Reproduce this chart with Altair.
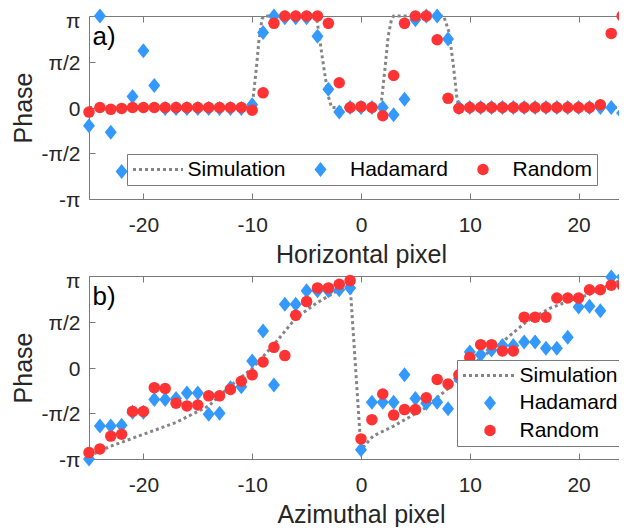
import altair as alt
import pandas as pd

# ---------------- data (phase values in units of pi) ----------------
PIXELS = list(range(-25, 25))
SERIES = ["Simulation", "Hadamard", "Random"]
X_TICKS = [-20, -10, 0, 10, 20]
Y_TICKS = [-1, -0.5, 0, 0.5, 1]
Y_LABELS = ["-π", "-π/2", "0", "π/2", "π"]
X_DOMAIN = [-25, 25]
Y_DOMAIN = [-1, 1]

TOP_HADAMARD = [-0.20, 1.00, -0.27, -0.70, 0.12, 0.62, 0.24,
                -0.01, -0.01, -0.01, -0.01, -0.01, -0.01, -0.01, -0.01,
                0.03, 0.82, 1.00, 0.98, 0.98, 0.98, 0.78, 0.20, -0.05, 0.00,
                0.00, 0.00, 0.00, -0.08, 0.09, 0.96, 1.00, 1.00, 0.75, 0.00,
                0.00, 0.00, 0.00, 0.00, 0.00, 0.00, 0.00, 0.00, 0.00, 0.00,
                0.00, 0.00, 0.00, 0.00, -0.06]
TOP_RANDOM = [-0.05, 0.00, -0.02, -0.01, 0.00, 0.00, 0.00,
              0.00, 0.00, 0.00, 0.00, 0.00, 0.00, 0.00, 0.00,
              -0.03, 0.16, 0.92, 1.00, 1.00, 1.00, 1.00, 0.92, 0.27, 0.00,
              0.01, 0.00, -0.09, 0.35, 0.92, 1.00, 1.00, 0.74, 0.10, -0.01,
              0.00, 0.00, 0.00, 0.00, 0.00, 0.00, 0.00, 0.00, 0.00, 0.00,
              0.00, 0.00, 0.03, 0.81, 1.00]
TOP_SIM_X = [-25, -10.0, -9.9, -9.6, -9.4, -9.1, -8.9, -4.1, -3.8, -3.4, -3.0, -2.7,
             1.7, 1.9, 2.2, 2.5, 2.8, 3.0, 7.6, 8.1, 8.5, 8.8, 9.0, 25]
TOP_SIM_Y = [0.0, 0.0, 0.12, 0.45, 0.71, 0.97, 1.0, 1.0, 0.75, 0.42, 0.12, 0.0,
             0.0, 0.09, 0.42, 0.78, 0.96, 1.0, 1.0, 0.82, 0.45, 0.12, 0.0, 0.0]

BOT_HADAMARD = [-1.00, -0.64, -0.64, -0.63, -0.49, -0.49, -0.35, -0.35, -0.34, -0.28,
                -0.28, -0.51, -0.50, -0.22, -0.21, 0.07, 0.40, -0.19, 0.69, 0.69,
                0.84, 0.84, 0.84, 0.85, 0.87, -0.90, -0.38, -0.38, -0.38, -0.08,
                -0.34, -0.39, -0.38, -0.45, -0.12, 0.17, 0.14, 0.19, 0.24, 0.24,
                0.28, 0.28, 0.21, 0.21, 0.33, 0.66, 0.67, 0.62, 0.99, 0.99]
BOT_RANDOM = [-0.93, -0.89, -0.75, -0.73, -0.48, -0.48, -0.22, -0.23, -0.39, -0.42,
              -0.41, -0.31, -0.31, -0.24, -0.15, -0.08, 0.06, 0.22, 0.13, 0.57,
              0.72, 0.87, 0.87, 0.91, 0.95, -0.78, -0.57, -0.29, -0.52, -0.46,
              -0.46, -0.33, -0.13, -0.18, -0.08, 0.11, 0.25, 0.25, 0.18, 0.18,
              0.55, 0.55, 0.55, 0.76, 0.76, 0.76, 0.85, 0.85, 0.90, 0.90]
BOT_SIM_X = [-25, -23, -20, -17, -14, -12, -10, -8, -6, -4, -2, -1, 0,
             1.1, 3, 5.8, 8, 10, 13.4, 15.2, 17.4, 19.2, 21, 23, 24]
BOT_SIM_Y = [-0.97, -0.86, -0.73, -0.60, -0.42, -0.20, -0.01, 0.25, 0.54, 0.71, 0.85, 0.90, -0.90,
             -0.75, -0.64, -0.45, -0.23, 0.01, 0.32, 0.50, 0.65, 0.73, 0.80, 0.91, 0.96]

# ---------------- styles ----------------
FONT = "Liberation Sans"
FRAME = "#7a7a7a"
SIM_GRAY = "#858585"
BLUE = "#3399ff"
RED = "#ff3333"
TXT = "#262626"
DIAMOND = "M0,-1L0.8,0L0,1L-0.8,0Z"
W, H = 544, 183
INWARD = {"expr": "-6"}

Y_EXPR = " : ".join(f"datum.value == {v} ? '{l}'" for v, l in zip(Y_TICKS, Y_LABELS)) + " : ''"
Y_LABEL_SHIFT = {"condition": {"test": f"datum.value == {Y_TICKS[-1]}", "value": 5}, "value": 1.5}


def panel(had, rnd, sim_x, sim_y, x_title, tag, legend, line_len):
    sim_df = pd.DataFrame({"x": sim_x, "y": sim_y, "series": "Simulation"})
    had_df = pd.DataFrame({"x": PIXELS, "y": had, "series": "Hadamard"})
    rnd_df = pd.DataFrame({"x": PIXELS, "y": rnd, "series": "Random"})
    xs = alt.Scale(domain=X_DOMAIN, nice=False, zero=False)
    ys = alt.Scale(domain=Y_DOMAIN, nice=False, zero=False)

    ax_bottom = alt.Axis(orient="bottom", values=X_TICKS, title=x_title, grid=False,
                         domain=True, domainColor=FRAME, domainWidth=1,
                         ticks=True, tickSize=INWARD, tickColor=FRAME, tickWidth=1,
                         labelExpr="'' + datum.value",
                         labelFontSize=21, labelFont=FONT, labelColor=TXT, labelPadding=21,
                         titleFontSize=25, titleFont=FONT, titleColor=TXT, titleFontWeight="normal",
                         titlePadding=7)
    ax_left = alt.Axis(orient="left", values=Y_TICKS, title="Phase", grid=False,
                       domain=True, domainColor=FRAME, domainWidth=1,
                       ticks=True, tickSize=INWARD, tickColor=FRAME, tickWidth=1,
                       labelExpr=Y_EXPR, labelOffset=Y_LABEL_SHIFT,
                       labelFontSize=21, labelFont=FONT, labelColor=TXT, labelPadding=15,
                       titleFontSize=25, titleFont=FONT, titleColor=TXT, titleFontWeight="normal",
                       titlePadding=5)
    # top frame with inward ticks; its title carries the panel tag
    ax_top = alt.Axis(orient="top", values=X_TICKS, grid=False, labels=False,
                      domain=True, domainColor=FRAME, domainWidth=1,
                      ticks=True, tickSize=INWARD, tickColor=FRAME, tickWidth=1,
                      title=tag, titleX=3, titleY=28.5, titleAlign="left",
                      titleBaseline="alphabetic", titleAngle=0, titleFontSize=26, titleFont=FONT,
                      titleColor="black", titleFontWeight="normal")

    line = alt.Chart(sim_df).mark_line(strokeDash=[3, 3], strokeWidth=3, color=SIM_GRAY).encode(
        x=alt.X("x:Q", scale=xs, axis=ax_bottom),
        y=alt.Y("y:Q", scale=ys, axis=ax_left),
        order=alt.Order("x:Q"),
    )

    def pts(df, ax_x):
        return alt.Chart(df).mark_point(filled=True, opacity=1, strokeWidth=0).encode(
            x=alt.X("x:Q", scale=xs, axis=ax_x),
            y=alt.Y("y:Q", scale=ys, axis=None),
            color=alt.Color("series:N", legend=legend,
                            scale=alt.Scale(domain=SERIES, range=[SIM_GRAY, BLUE, RED])),
            stroke=alt.Stroke("series:N", legend=legend,
                              scale=alt.Scale(domain=SERIES, range=[SIM_GRAY, BLUE, RED])),
            shape=alt.Shape("series:N", legend=legend,
                            scale=alt.Scale(domain=SERIES, range=["stroke", DIAMOND, "circle"])),
            size=alt.Size("series:N", legend=legend,
                          scale=alt.Scale(type="ordinal", domain=SERIES,
                                          range=[line_len * line_len, 225, 132])),
            strokeDash=alt.StrokeDash("series:N", legend=legend,
                                      scale=alt.Scale(domain=SERIES,
                                                      range=[[3, 3], [0, 1000], [0, 1000]])),
        )

    return alt.layer(
        line,
        pts(had_df, ax_top),
        pts(rnd_df, None),
    ).resolve_axis(x="independent", y="independent").properties(width=W, height=H)


leg_common = dict(title=None, labelFontSize=21, labelFont=FONT, labelColor="black",
                  strokeColor=FRAME, fillColor="white", symbolStrokeWidth=3, symbolOpacity=1,
                  padding=4.5, clipHeight=22)
top_legend = alt.Legend(orient="none", legendX=38, legendY=138, direction="horizontal", columns=3,
                        columnPadding=7.5, labelOffset=3, **leg_common)
bot_legend = alt.Legend(orient="none", legendX=368, legendY=84, direction="vertical", columns=1,
                        rowPadding=5.5, labelOffset=1, **leg_common)

top = panel(TOP_HADAMARD, TOP_RANDOM, TOP_SIM_X, TOP_SIM_Y, "Horizontal pixel", "a)", top_legend, 50)
bot = panel(BOT_HADAMARD, BOT_RANDOM, BOT_SIM_X, BOT_SIM_Y, "Azimuthal pixel", "b)", bot_legend, 54)

chart = alt.vconcat(top, bot, spacing=2).resolve_scale(
    color="independent", stroke="independent", shape="independent", size="independent",
    strokeDash="independent", x="independent", y="independent",
).resolve_legend(
    color="independent", stroke="independent", shape="independent", size="independent",
    strokeDash="independent",
).properties(
    padding={"left": 3, "top": 0, "right": -20, "bottom": 0},
    background="white",
).configure_view(stroke=None)

chart.save("out.html", embed_options={"renderer": "svg", "actions": False})
